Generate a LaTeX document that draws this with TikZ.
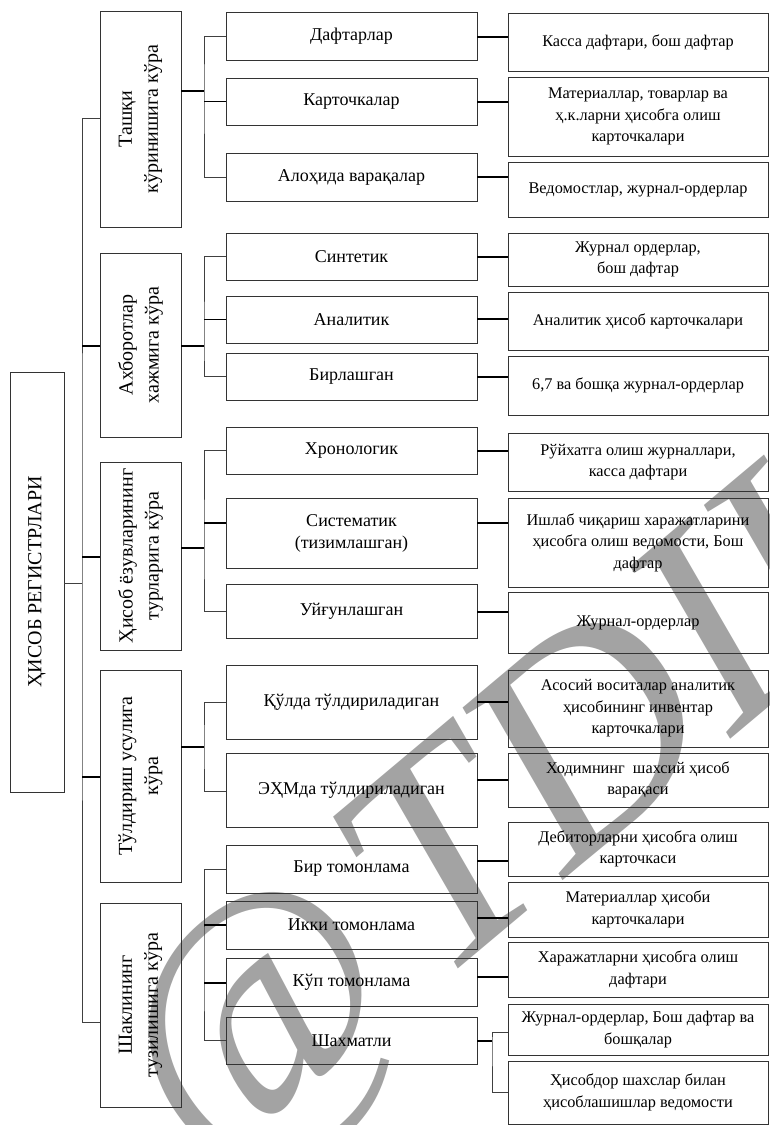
\documentclass[tikz,border=0pt]{standalone}
\usepackage{fontspec}
\setmainfont{Liberation Serif}
\begin{document}
\begin{tikzpicture}[x=1pt,y=-1pt,
  bx/.style={draw=black!80, line width=1pt, align=center, inner sep=2pt, outer sep=0pt},
  lv2/.style={bx, font=\fontsize{18}{22}\selectfont},
  lv3/.style={bx, font=\fontsize{16.3}{21.5}\selectfont},
  catbox/.style={bx},
  cattext/.style={rotate=90, align=center, font=\fontsize{20}{26}\selectfont},
  thinln/.style={draw=black!75, line width=0.9pt},
  thickln/.style={draw=black, line width=1.8pt},
  wmark/.style={text=black!36, font=\fontsize{300}{300}\selectfont\itshape}]
\newcommand\mybox[7]{\node[#1, minimum width={(#4)-(#2)}, minimum height={(#5)-(#3)}] (#6) at ({((#2)+(#4))/2},{((#3)+(#5))/2}) {#7};}
\useasboundingbox (0,0) rectangle (769,1125);
% watermark
\begin{scope}
\clip (0,0) rectangle (769,1125);
\node[wmark, rotate=40, anchor=base west] (wm) at (205,1181) {@\kern25pt TDIU};
\end{scope}
% root
\mybox{bx}{10}{372}{64}{792}{root}{}
\node[cattext] (roott) at (root) {ҲИСОБ РЕГИСТРЛАРИ};
% categories
\mybox{catbox}{100}{11}{181}{227}{c1}{}
\mybox{catbox}{100}{253}{181}{437}{c2}{}
\mybox{catbox}{100}{462}{181}{650}{c3}{}
\mybox{catbox}{100}{670}{181}{882}{c4}{}
\mybox{catbox}{100}{903}{181}{1107}{c5}{}
\node[cattext] (c1t) at (c1) {Ташқи\\кўринишига кўра};
\node[cattext] (c2t) at (c2) {Ахборотлар\\хажмига кўра};
\node[cattext] (c3t) at (c3) {Ҳисоб ёзувларининг\\турларига кўра};
\node[cattext] (c4t) at (c4) {Тўлдириш усулига\\кўра};
\node[cattext] (c5t) at (c5) {Шаклининг\\тузилишига кўра};
% level 2
\mybox{lv2}{226}{12}{477}{60}{d1}{Дафтарлар}
\mybox{lv2}{226}{78}{477}{125}{k1}{Карточкалар}
\mybox{lv2}{226}{153}{477}{201}{a1}{Алоҳида варақалар}
\mybox{lv2}{226}{233}{477}{280}{s2}{Синтетик}
\mybox{lv2}{226}{296}{477}{343}{a2}{Аналитик}
\mybox{lv2}{226}{353}{477}{400}{b2}{Бирлашган}
\mybox{lv2}{226}{427}{477}{474}{x3}{Хронологик}
\mybox{lv2}{226}{498}{477}{568}{s3}{Систематик\\(тизимлашган)}
\mybox{lv2}{226}{584}{477}{638}{u3}{Уйғунлашган}
\mybox{lv2}{226}{665}{477}{739}{q4}{Қўлда тўлдириладиган}
\mybox{lv2}{226}{753}{477}{827}{e4}{ЭҲМда тўлдириладиган}
\mybox{lv2}{226}{845}{477}{893}{b5}{Бир томонлама}
\mybox{lv2}{226}{901}{477}{949}{i5}{Икки томонлама}
\mybox{lv2}{226}{958}{477}{1006}{k5}{Кўп томонлама}
\mybox{lv2}{226}{1017}{477}{1064}{h5}{Шахматли}
% level 3
\mybox{lv3}{508}{13}{768}{71}{r1}{Касса дафтари, бош дафтар}
\mybox{lv3}{508}{77}{768}{156}{r2}{Материаллар, товарлар ва\\ҳ.к.ларни ҳисобга олиш\\карточкалари}
\mybox{lv3}{508}{162}{768}{217}{r3}{Ведомостлар, журнал-ордерлар}
\mybox{lv3}{508}{233}{768}{286}{r4}{Журнал ордерлар,\\бош дафтар}
\mybox{lv3}{508}{292}{768}{350}{r5}{Аналитик ҳисоб карточкалари}
\mybox{lv3}{508}{356}{768}{415}{r6}{6,7 ва бошқа журнал-ордерлар}
\mybox{lv3}{508}{433}{768}{491}{r7}{Рўйхатга олиш журналлари,\\касса дафтари}
\mybox{lv3}{508}{498}{768}{587}{r8}{Ишлаб чиқариш харажатларини\\ҳисобга олиш ведомости, Бош\\дафтар}
\mybox{lv3}{508}{592}{768}{653}{r9}{Журнал-ордерлар}
\mybox{lv3}{508}{670}{768}{747}{r10}{Асосий воситалар аналитик\\ҳисобининг инвентар\\карточкалари}
\mybox{lv3}{508}{753}{768}{807}{r11}{Ходимнинг\ \ шахсий ҳисоб\\варақаси}
\mybox{lv3}{508}{822}{768}{876}{r12}{Дебиторларни ҳисобга олиш\\карточкаси}
\mybox{lv3}{508}{882}{768}{937}{r13}{Материаллар ҳисоби\\карточкалари}
\mybox{lv3}{508}{942}{768}{997}{r14}{Харажатларни ҳисобга олиш\\дафтари}
\mybox{lv3}{508}{1004}{768}{1055}{r15}{Журнал-ордерлар, Бош дафтар ва\\бошқалар}
\mybox{lv3}{508}{1061}{768}{1124}{r16}{Ҳисобдор шахслар билан\\ҳисоблашишлар ведомости}
% bus coordinates
\coordinate (tr) at (82,583);
\coordinate (g1) at (204,91);
\coordinate (g2) at (204,346);
\coordinate (g3) at (204,548);
\coordinate (g4) at (204,747);
\coordinate (g5) at (204,983);
\coordinate (g6) at (492,1041);
% trunk
\draw[thinln] (root.east |- tr) -- (tr);
\draw[thinln] (c1.west |- 0,118) -| (tr) |- (c5.west |- 0,1022);
\draw[thickln] (c2.west |- 0,346) -- (tr |- 0,346);
\draw[thickln] (c3.west |- 0,557) -- (tr |- 0,557);
\draw[thickln] (c4.west |- 0,777) -- (tr |- 0,777);
% category -> bus
\draw[thickln] (c1.east |- g1) -- (g1);
\draw[thickln] (c2.east |- g2) -- (g2);
\draw[thickln] (c3.east |- g3) -- (g3);
\draw[thickln] (c4.east |- g4) -- (g4);
% bus -> level 2
\draw[thinln] (d1.west) -| (g1) |- (a1.west);
\draw[thickln] (k1.west) -- (k1.west -| g1);
\draw[thinln] (s2.west) -| (g2) |- (b2.west);
\draw[thickln] (a2.west) -- (a2.west -| g2);
\draw[thinln] (x3.west) -| (g3) |- (u3.west);
\draw[thickln] (s3.west |- 0,523) -- (g3 |- 0,523);
\draw[thinln] (q4.west) -| (g4) |- (e4.west |- 0,791);
\draw[thinln] (b5.west) -| (g5) |- (h5.west);
\draw[thickln] (i5.west |- 0,925) -- (g5 |- 0,925);
\draw[thickln] (k5.west |- 0,983) -- (g5);
% level 2 -> level 3
\draw[thickln] (d1.east |- 0,37) -- (r1.west |- 0,37);
\draw[thickln] (k1.east |- 0,102) -- (r2.west |- 0,102);
\draw[thickln] (a1.east |- 0,177) -- (r3.west |- 0,177);
\draw[thickln] (s2.east |- 0,257) -- (r4.west |- 0,257);
\draw[thickln] (a2.east |- 0,319) -- (r5.west |- 0,319);
\draw[thickln] (b2.east |- 0,377) -- (r6.west |- 0,377);
\draw[thickln] (x3.east |- 0,451) -- (r7.west |- 0,451);
\draw[thickln] (s3.east |- 0,523) -- (r8.west |- 0,523);
\draw[thickln] (u3.east |- 0,612) -- (r9.west |- 0,612);
\draw[thickln] (q4.east |- 0,702) -- (r10.west |- 0,702);
\draw[thickln] (e4.east |- 0,780) -- (r11.west |- 0,780);
\draw[thickln] (b5.east |- 0,861) -- (r12.west |- 0,861);
\draw[thickln] (i5.east |- 0,918) -- (r13.west |- 0,918);
\draw[thickln] (k5.east |- 0,977) -- (r14.west |- 0,977);
\draw[thickln] (h5.east |- g6) -- (g6);
\draw[thinln] (r15.west |- 0,1032) -| (g6) |- (r16.west);
\end{tikzpicture}
\end{document}
